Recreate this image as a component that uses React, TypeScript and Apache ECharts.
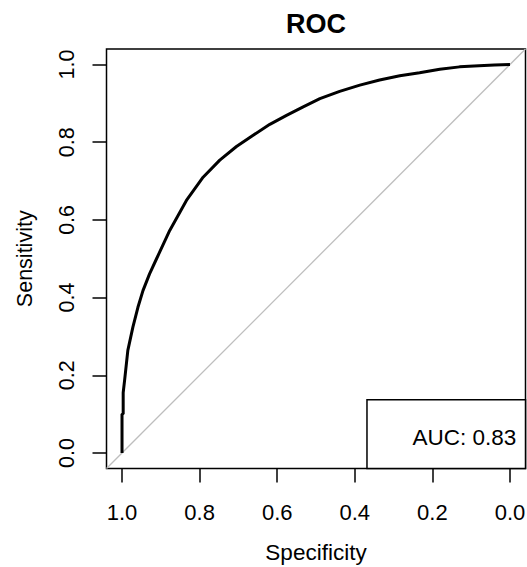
import React, { useEffect, useRef } from "react";
import * as echarts from "echarts";

const specificity = [1.0, 1.0, 0.997, 0.997, 0.993, 0.985, 0.972, 0.959, 0.946, 0.929, 0.911, 0.877, 0.834, 0.791, 0.748, 0.705, 0.662, 0.619, 0.576, 0.533, 0.49, 0.439, 0.387, 0.336, 0.284, 0.233, 0.181, 0.13, 0.08, 0.04, 0.0];
const sensitivity = [0.0, 0.1, 0.1, 0.155, 0.19, 0.264, 0.324, 0.375, 0.418, 0.461, 0.5, 0.573, 0.65, 0.71, 0.754, 0.789, 0.818, 0.846, 0.869, 0.891, 0.912, 0.931, 0.947, 0.96, 0.971, 0.979, 0.988, 0.994, 0.997, 0.999, 1.0];
const tickValues = [0, 0.2, 0.4, 0.6, 0.8, 1.0];
const axisMin = -0.04;
const axisMax = 1.04;
const aucText = "AUC: 0.83";
const legendCorner = [0.3686, 0.137];

const FONT = "'Liberation Sans', Arial, Helvetica, sans-serif";

export default function App() {
  const ref = useRef<HTMLDivElement>(null);
  useEffect(() => {
    if (!ref.current) return;
    const chart = echarts.init(ref.current, null, { renderer: "svg" });
    const curve = specificity.map((s, i) => [s, sensitivity[i]]);
    chart.setOption({
      animation: false,
      backgroundColor: "#ffffff",
      title: {
        text: "ROC",
        left: 316,
        top: 10,
        padding: 0,
        textAlign: "center",
        textStyle: { fontFamily: FONT, fontSize: 27, fontWeight: "bold", color: "#000" },
      },
      grid: {
        left: 106.5,
        right: 1.5,
        top: 49,
        bottom: 98.5,
        outerBoundsMode: "none",
        containLabel: false,
        show: true,
        borderColor: "#000",
        borderWidth: 1.5,
        backgroundColor: "transparent",
      },
      xAxis: {
        type: "value",
        inverse: true,
        min: axisMin,
        max: axisMax,
        name: "Specificity",
        nameLocation: "middle",
        nameGap: 72,
        nameTextStyle: { fontFamily: FONT, fontSize: 22.5, color: "#000" },
        axisLine: { show: false, onZero: false },
        splitLine: { show: false },
        axisTick: { show: true, inside: false, length: 14, customValues: tickValues, lineStyle: { color: "#000", width: 1.5 } },
        axisLabel: {
          customValues: tickValues,
          margin: 33,
          fontFamily: FONT,
          fontSize: 22,
          color: "#000",
          formatter: (v: number) => v.toFixed(1),
        },
      },
      yAxis: {
        type: "value",
        min: axisMin,
        max: axisMax,
        name: "Sensitivity",
        nameLocation: "middle",
        nameGap: 71,
        nameRotate: 90,
        nameTextStyle: { fontFamily: FONT, fontSize: 21.5, color: "#000" },
        axisLine: { show: false, onZero: false },
        splitLine: { show: false },
        axisTick: { show: true, inside: false, length: 14, customValues: tickValues, lineStyle: { color: "#000", width: 1.5 } },
        axisLabel: {
          customValues: tickValues,
          rotate: 90,
          margin: 28.5,
          fontFamily: FONT,
          fontSize: 21.5,
          color: "#000",
          formatter: (v: number) => v.toFixed(1),
        },
      },
      series: [
        {
          type: "line",
          data: [[axisMax, axisMin], [axisMin, axisMax]],
          symbol: "none",
          silent: true,
          lineStyle: { color: "#BEBEBE", width: 1.3 },
          z: 1,
          markArea: {
            silent: true,
            itemStyle: { color: "#ffffff", opacity: 1, borderColor: "#000", borderWidth: 1.5 },
            label: {
              show: true,
              position: "insideRight",
              distance: 10,
              offset: [0, 3],
              fontFamily: FONT,
              fontSize: 22.5,
              color: "#000",
            },
            data: [
              [
                { name: aucText, coord: legendCorner },
                { coord: [axisMin, axisMin] },
              ],
            ],
          },
        },
        {
          type: "line",
          data: curve,
          symbol: "none",
          silent: true,
          lineStyle: { color: "#000", width: 3 },
          z: 3,
        },
      ],
    });
    return () => chart.dispose();
  }, []);
  return (
    <div
      ref={ref}
      style={{ position: "absolute", left: 0, top: 0, width: 527, height: 567 }}
    />
  );
}
